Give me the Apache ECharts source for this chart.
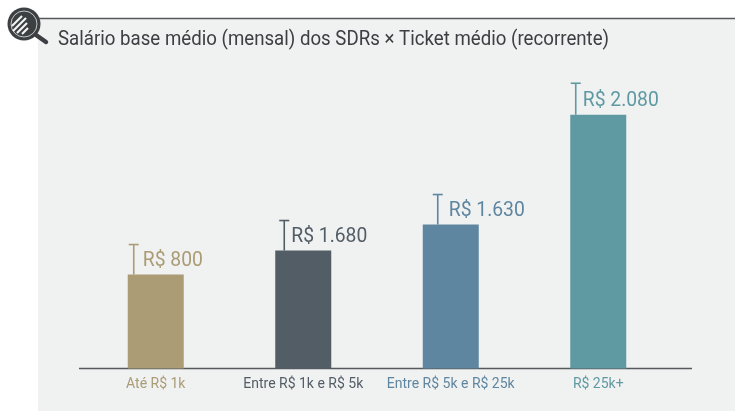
<!DOCTYPE html>
<html>
<head>
<meta charset="utf-8">
<script src="https://cdn.jsdelivr.net/npm/echarts@6/dist/echarts.min.js"></script>
<style>
  html, body { margin: 0; padding: 0; background: #fff; }
  #chart { width: 739px; height: 416px; }
</style>
</head>
<body>
<div id="chart"></div>
<script>
const categories = ['Até R$ 1k', 'Entre R$ 1k e R$ 5k', 'Entre R$ 5k e R$ 25k', 'R$ 25k+'];
// bar heights, they do not follow the printed labels
const barLevels = [770, 967, 1180, 2080];
const valueLabels = ['R$ 800', 'R$ 1.680', 'R$ 1.630', 'R$ 2.080'];
const colors = ['#ab9c76', '#535d66', '#5f86a0', '#5f9aa3'];

const FONT = 'Roboto, sans-serif';
const AXIS = '#55595c';
const TITLE = 'Salário base médio (mensal) dos SDRs × Ticket médio (recorrente)';

// the T marks do not sit at the same spot on every bar
const whiskerShift = [-22, -19, -13, -22.5];
const whiskerRise = [30, 30, 30, 31.5];
const textGap = [9, 7, 11, 7];

let myChart = echarts.init(document.getElementById('chart'));

// T mark and value text over each bar
function renderWhisker(params, api) {
  const i = api.value(0);
  const top = api.coord([i, api.value(1)]);
  const x = top[0] + whiskerShift[i];
  const capY = top[1] - whiskerRise[i];
  const style = { stroke: colors[i], lineWidth: 1.6 };
  return {
    type: 'group',
    children: [
      { type: 'line', shape: { x1: x, y1: top[1], x2: x, y2: capY }, style },
      { type: 'line', shape: { x1: x - 5, y1: capY, x2: x + 5, y2: capY }, style },
      {
        type: 'text',
        x: x + textGap[i],
        y: top[1] - 13.5,
        scaleX: 0.92,
        style: {
          text: valueLabels[i],
          fill: colors[i],
          font: '21px ' + FONT,
          textVerticalAlign: 'middle'
        }
      }
    ]
  };
}

myChart.setOption({
  animation: false,
  backgroundColor: '#fff',
  grid: { left: 82, width: 590, top: 63.5, height: 305 },
  xAxis: {
    type: 'category',
    data: categories.map((c, i) => ({ value: c, textStyle: { color: colors[i] } })),
    axisLine: { show: false },
    axisTick: { show: false },
    axisLabel: { fontSize: 14, fontFamily: FONT, margin: 9, interval: 0 }
  },
  yAxis: { type: 'value', min: 0, max: 2500, show: false, splitLine: { show: false } },
  series: [
    {
      type: 'bar',
      barWidth: 56,
      data: barLevels.map((v, i) => ({ value: v, itemStyle: { color: colors[i] } }))
    },
    {
      type: 'custom',
      renderItem: renderWhisker,
      clip: false,
      data: barLevels.map((v, i) => [i, v])
    }
  ],
  graphic: [
    // panel and frame
    { type: 'rect', z: -10, shape: { x: 38, y: 18, width: 697, height: 393 }, style: { fill: '#f0f1f1' } },
    { type: 'line', z: 1, shape: { x1: 38, y1: 18.5, x2: 735, y2: 18.5 }, style: { stroke: '#55595c', lineWidth: 1.5 } },
    { type: 'line', z: 1, shape: { x1: 79, y1: 368.5, x2: 692, y2: 368.5 }, style: { stroke: AXIS, lineWidth: 1.5 } },
    // title, squeezed because no condensed font is installed
    {
      type: 'text', z: 4, x: 58, y: 39.5, scaleX: 0.889,
      style: { text: TITLE, fill: '#3c4043', font: '21px ' + FONT, textVerticalAlign: 'middle' }
    },
    // magnifier icon
    { type: 'line', z: 5, shape: { x1: 36, y1: 35, x2: 46, y2: 42 }, style: { stroke: '#3c4043', lineWidth: 4.5, lineCap: 'round' } },
    { type: 'circle', z: 5, shape: { cx: 24, cy: 24, r: 16.5 }, style: { fill: '#3c4043' } },
    { type: 'circle', z: 6, shape: { cx: 24, cy: 24, r: 13 }, style: { fill: 'none', stroke: '#e8e8e8', lineWidth: 0.8 } },
    { type: 'line', z: 6, shape: { x1: 12, y1: 26, x2: 22, y2: 16 }, style: { stroke: '#f4f4f4', lineWidth: 2.2 } },
    { type: 'line', z: 6, shape: { x1: 13, y1: 31, x2: 26, y2: 18 }, style: { stroke: '#f4f4f4', lineWidth: 2.2 } },
    { type: 'line', z: 6, shape: { x1: 17, y1: 33, x2: 27, y2: 23 }, style: { stroke: '#f4f4f4', lineWidth: 2.2 } },
    { type: 'line', z: 6, shape: { x1: 22, y1: 34, x2: 28, y2: 28 }, style: { stroke: '#f4f4f4', lineWidth: 2.2 } }
  ]
});
</script>
</body>
</html>
